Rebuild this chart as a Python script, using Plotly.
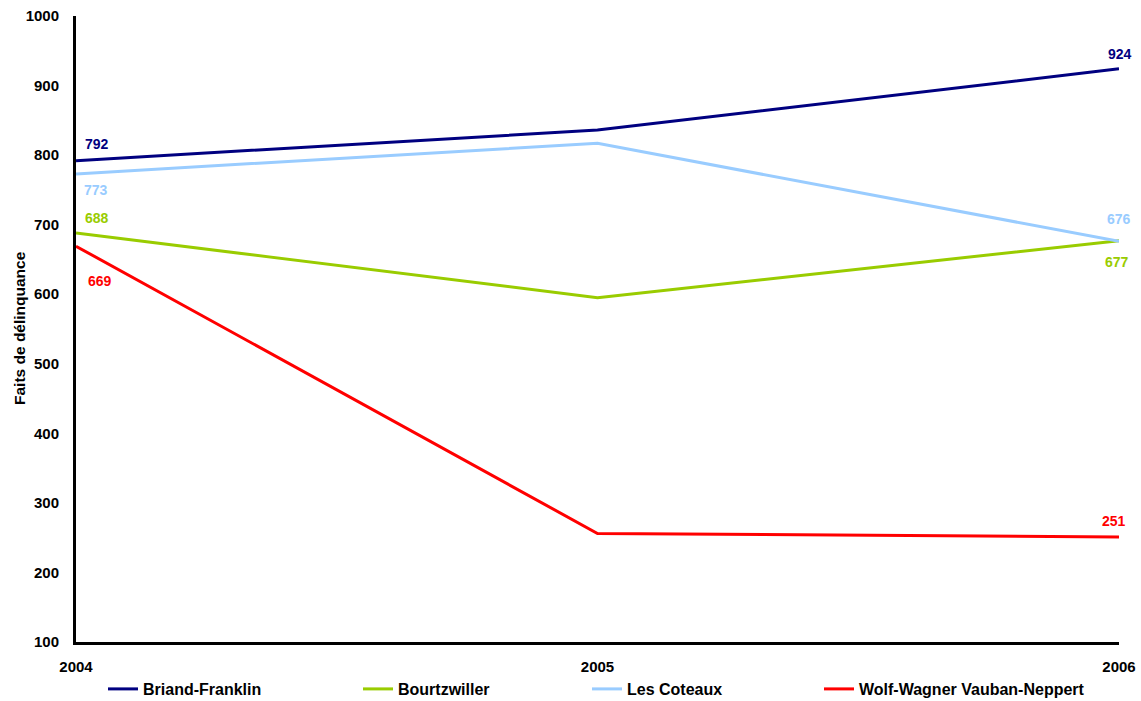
import plotly.graph_objects as go

# Données : faits de délinquance par quartier
annees = [2004, 2005, 2006]
quartiers = ["Briand-Franklin", "Bourtzwiller", "Les Coteaux", "Wolf-Wagner Vauban-Neppert"]
briand_franklin = [792, 836, 924]
bourtzwiller = [688, 595, 677]
les_coteaux = [773, 817, 676]
wolf_wagner = [669, 256, 251]
valeurs = [briand_franklin, bourtzwiller, les_coteaux, wolf_wagner]

couleurs = ["#000080", "#99CC00", "#99CCFF", "#FF0000"]

# Position des étiquettes aux extrémités : (index du point, xanchor, xshift, yshift)
etiquettes = [
    [(0, "left", 7, 17), (2, "center", 1, 15)],
    [(0, "left", 7, 15), (2, "center", -2, -21)],
    [(0, "left", 6, -16), (2, "center", 0, 22)],
    [(0, "left", 10, -35), (2, "center", -5, 16)],
]

# Début du texte de chaque entrée de légende (px)
legende_x = [143, 398, 627, 859]

W, H = 1141, 701
L, R, T, B = 76, 22, 16, 59
pw, ph = W - L - R, H - T - B

fig = go.Figure()
font = "Liberation Sans, Arial, sans-serif"

annotations = []
for i, (nom, ys, c) in enumerate(zip(quartiers, valeurs, couleurs)):
    leg = "legend" if i == 0 else f"legend{i + 1}"
    fig.add_trace(go.Scatter(
        x=annees, y=ys, mode="lines", name=nom,
        line=dict(color=c, width=3), legend=leg,
        hoverinfo="x+y+name",
    ))
    for idx, xa, dx, dy in etiquettes[i]:
        annotations.append(dict(
            x=annees[idx], y=ys[idx], xref="x", yref="y",
            text=f"<b>{ys[idx]}</b>", showarrow=False,
            xanchor=xa, yanchor="middle", xshift=dx, yshift=dy,
            font=dict(family=font, size=14, color=c),
        ))

# Titre de l'axe vertical (coordonnées "paper" calculées depuis les pixels)
annotations.append(dict(
    x=(19 - L) / pw, y=(H - B - 328) / ph, xref="paper", yref="paper",
    text="<b>Faits de délinquance</b>", showarrow=False, textangle=-90,
    xanchor="center", yanchor="middle",
    font=dict(family=font, size=15.5, color="#000000"),
))

legends = {}
for i, tx in enumerate(legende_x):
    key = "legend" if i == 0 else f"legend{i + 1}"
    legends[key] = dict(
        xref="container", yref="container",
        x=(tx - 40) / W, y=1 - 689 / H,
        xanchor="left", yanchor="middle",
        orientation="h", bgcolor="rgba(0,0,0,0)",
        font=dict(family=font, size=16, color="#000000", weight="bold"),
        itemclick=False, itemdoubleclick=False,
    )

fig.update_layout(
    width=W, height=H,
    margin=dict(l=L, r=R, t=T, b=B, autoexpand=False),
    plot_bgcolor="white", paper_bgcolor="white",
    font=dict(family=font, color="#000000"),
    annotations=annotations,
    showlegend=True,
    **legends,
)

fig.update_xaxes(
    range=[2004, 2006], tickvals=annees, ticktext=[f"<b>{a}</b>" for a in annees],
    showgrid=False, zeroline=False, showline=True, linecolor="#000000", linewidth=3,
    ticks="", ticklabelstandoff=9, automargin=False,
    tickfont=dict(family=font, size=15, color="#000000"),
)
fig.update_yaxes(
    range=[100, 1000], tickvals=list(range(100, 1001, 100)),
    ticktext=[f"<b>{v}</b>" for v in range(100, 1001, 100)],
    showgrid=False, zeroline=False, showline=True, linecolor="#000000", linewidth=3,
    ticks="", ticklabelstandoff=11, automargin=False,
    tickfont=dict(family=font, size=15, color="#000000"),
)

fig.write_html("out.html")
